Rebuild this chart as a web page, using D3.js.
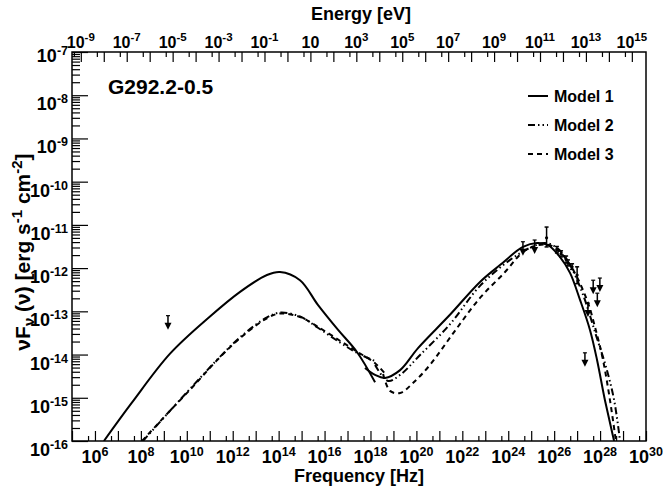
<!DOCTYPE html>
<html><head><meta charset="utf-8">
<script src="https://cdn.jsdelivr.net/npm/d3@7"></script>
<style>
body{margin:0;background:#fff;}
text{font-family:"Liberation Sans",Arial,Helvetica,sans-serif;font-weight:bold;fill:#000;}
</style></head>
<body><svg id="c" width="663" height="494"></svg>
<script>
// ---- data (log10 values) ----
const m1SyncLogNu = [6.39, 7.6, 9.27, 11.01, 12.32, 13.49, 14.06, 14.93, 15.71, 16.59, 17.41, 18.20];
const m1SyncLogF  = [-16.0, -15.12, -13.98, -13.12, -12.55, -12.16, -12.09, -12.28, -12.85, -13.43, -13.94, -14.64];
const m1ICLogNu = [17.76, 18.2, 18.63, 19.29, 20.07, 21.46, 22.77, 23.64, 24.64, 25.25, 25.73, 26.25, 26.69, 27.13, 27.56, 27.87, 28.21, 28.61];
const m1ICLogF  = [-14.31, -14.47, -14.54, -14.36, -13.85, -13.08, -12.32, -11.93, -11.51, -11.42, -11.47, -11.74, -12.11, -12.74, -13.43, -14.13, -15.05, -16.0];

const m2SyncLogNu = [8.09, 9.27, 10.27, 11.32, 12.32, 13.49, 14.06, 14.93, 15.71, 16.67, 17.41, 18.20];
const m2SyncLogF  = [-16.0, -15.3, -14.72, -14.12, -13.6, -13.14, -13.03, -13.12, -13.38, -13.72, -13.96, -14.15];
const m2ICLogNu = [18.2, 18.76, 19.29, 20.16, 21.46, 22.77, 24.08, 24.95, 25.6, 26.12, 26.69, 27.26, 27.82, 28.26, 28.61, 28.87];
const m2ICLogF  = [-14.24, -14.61, -14.47, -14.01, -13.3, -12.41, -11.81, -11.53, -11.42, -11.53, -11.93, -12.62, -13.55, -14.29, -15.05, -16.0];

const m3SyncLogNu = [8.05, 9.27, 10.27, 11.32, 12.32, 13.49, 14.06, 14.93, 15.71, 16.67, 17.41, 18.20, 18.6];
const m3SyncLogF  = [-16.0, -15.3, -14.74, -14.13, -13.62, -13.16, -13.05, -13.13, -13.36, -13.68, -13.93, -14.2, -14.42];
const m3ICLogNu = [18.55, 18.85, 19.29, 19.85, 20.59, 21.68, 22.77, 23.86, 24.64, 25.30, 25.82, 26.25, 26.78, 27.43, 27.87, 28.13, 28.43, 28.69];
const m3ICLogF  = [-14.45, -14.84, -14.89, -14.66, -14.24, -13.45, -12.69, -12.09, -11.63, -11.47, -11.47, -11.63, -12.0, -12.74, -13.55, -14.13, -15.05, -16.0];

const fermiLogNu = [25.67, 26.12, 26.30, 26.52, 26.60, 26.78, 27.0];
const fermiLogF  = [-11.30, -11.58, -11.67, -11.80, -11.88, -11.97, -12.16];
const fermiLogLo = [-11.51, -11.65, -11.74, -11.88, -11.95, -12.03, -12.36];
const fermiLogHi = [-11.05, -11.50, -11.60, -11.72, -11.81, -11.90, -11.97];

const ulLogNu = [9.18, 24.64, 25.15, 27.34, 27.47, 27.70, 27.88, 27.99];
const ulLogF  = [-13.10, -11.39, -11.35, -13.96, -12.81, -12.28, -12.58, -12.23];

const freqLabelExps = [6,8,10,12,14,16,18,20,22,24,26,28,30];
const energyLabelExps = [-9,-7,-5,-3,-1,1,3,5,7,9,11,13,15];
const fluxLabelExps = [-16,-15,-14,-13,-12,-11,-10,-9,-8,-7];
const legendLabels = ["Model 1","Model 2","Model 3"];
const title = "G292.2-0.5";

// ---- layout ----
const L=72, R=646, T=52, B=441;
const hPlanck = 4.135667e-15; // eV s
const svg = d3.select("#c");
const x = d3.scaleLog().domain([1e5,1e30]).range([L,R]);
const xE = d3.scaleLog().domain([1e5*hPlanck,1e30*hPlanck]).range([L,R]);
const y = d3.scaleLog().domain([1e-16,1e-7]).range([B,T]);
const p10 = v => Math.pow(10,v);

svg.append("defs").append("clipPath").attr("id","clip")
  .append("rect").attr("x",L).attr("y",T).attr("width",R-L).attr("height",B-T);

svg.append("rect").attr("x",L).attr("y",T).attr("width",R-L).attr("height",B-T)
  .attr("fill","none").attr("stroke","#000").attr("stroke-width",1.5);

function tickAxis(axisFn, scale, vals, size, transform){
  const g = svg.append("g").attr("transform",transform)
    .call(axisFn(scale).tickValues(vals).tickSizeInner(-size).tickSizeOuter(0).tickFormat(""));
  g.select(".domain").remove();
  g.selectAll("line").attr("stroke","#000").attr("stroke-width",1.2);
  return g;
}
const decN = d3.range(5,31).map(p10), halfN = d3.range(5,30).map(k=>5*p10(k));
tickAxis(d3.axisBottom, x, decN, 10, `translate(0,${B})`);
tickAxis(d3.axisBottom, x, halfN, 5, `translate(0,${B})`);
const eDec = d3.range(-9,16).map(p10);
const eHalf = d3.range(-10,15).map(k=>5*p10(k)).filter(v=>v>=1e5*hPlanck && v<=1e30*hPlanck);
tickAxis(d3.axisTop, xE, eDec, 10, `translate(0,${T})`);
tickAxis(d3.axisTop, xE, eHalf, 5, `translate(0,${T})`);
const yMaj = d3.range(-16,-6).map(p10);
const yMin = [];
d3.range(-16,-7).forEach(k=>{for(let m=2;m<=9;m++) yMin.push(m*p10(k));});
tickAxis(d3.axisLeft, y, yMaj, 16, `translate(${L},0)`);
tickAxis(d3.axisLeft, y, yMin, 8, `translate(${L},0)`);

function pow10Label(g, xp, yp, exp, anchor, fs, sfs){
  const t = g.append("text").attr("x",xp).attr("y",yp).attr("text-anchor",anchor).attr("font-size",fs);
  t.append("tspan").text("10");
  if(exp!==1) t.append("tspan").attr("dy",-7).attr("font-size",sfs).text(exp);
  return t;
}
const lg = svg.append("g");
freqLabelExps.forEach(e=>pow10Label(lg, x(p10(e)), 463, e, "middle", 18, 12.5));
energyLabelExps.forEach(e=>pow10Label(lg, xE(p10(e)), 48, e, "middle", 16, 11.5));
fluxLabelExps.forEach(e=>pow10Label(lg, 68, e===-7 ? y(p10(e))+10 : y(p10(e))+15, e, "end", 18, 12.5));

svg.append("text").attr("x",359).attr("y",482).attr("text-anchor","middle").attr("font-size",18).text("Frequency [Hz]");
svg.append("text").attr("x",361).attr("y",20).attr("text-anchor","middle").attr("font-size",18).text("Energy [eV]");
const yt = svg.append("text").attr("transform","translate(30,252) rotate(-90)").attr("text-anchor","middle").attr("font-size",21);
yt.append("tspan").text("\u03BDF");
yt.append("tspan").attr("font-size",15).attr("dy",4).text("\u03BD");
yt.append("tspan").attr("dy",-4).text(" (\u03BD) [erg s");
yt.append("tspan").attr("font-size",15).attr("dy",-8).text("-1");
yt.append("tspan").attr("dy",8).text(" cm");
yt.append("tspan").attr("font-size",15).attr("dy",-8).text("-2");
yt.append("tspan").attr("dy",8).text("]");

svg.append("text").attr("x",108).attr("y",94).attr("font-size",21).text(title);

const line = d3.line().x(d=>x(p10(d[0]))).y(d=>y(p10(d[1]))).curve(d3.curveCatmullRom.alpha(0.5));
const plot = svg.append("g").attr("clip-path","url(#clip)");
const dashes = [null, "7,3,1.5,3,1.5,3", "5,4"];
const series = [
  [m1SyncLogNu,m1SyncLogF,0],[m1ICLogNu,m1ICLogF,0],
  [m2SyncLogNu,m2SyncLogF,1],[m2ICLogNu,m2ICLogF,1],
  [m3SyncLogNu,m3SyncLogF,2],[m3ICLogNu,m3ICLogF,2]
];
series.forEach(([nu,f,k])=>{
  plot.append("path").datum(nu.map((v,i)=>[v,f[i]])).attr("d",line)
    .attr("fill","none").attr("stroke","#000").attr("stroke-width",2)
    .attr("stroke-dasharray",dashes[k]);
});

const pts = svg.append("g");
fermiLogNu.forEach((v,i)=>{
  const px = x(p10(v));
  pts.append("line").attr("x1",px).attr("x2",px).attr("y1",y(p10(fermiLogLo[i]))).attr("y2",y(p10(fermiLogHi[i]))).attr("stroke","#000").attr("stroke-width",1.5);
  [fermiLogLo[i],fermiLogHi[i]].forEach(e=>pts.append("line").attr("x1",px-2).attr("x2",px+2).attr("y1",y(p10(e))).attr("y2",y(p10(e))).attr("stroke","#000").attr("stroke-width",1.5));
  pts.append("circle").attr("cx",px).attr("cy",y(p10(fermiLogF[i]))).attr("r",1.6).attr("fill","#000");
});
ulLogNu.forEach((v,i)=>{
  const px = x(p10(v)), py = y(p10(ulLogF[i]));
  pts.append("line").attr("x1",px-2).attr("x2",px+2).attr("y1",py).attr("y2",py).attr("stroke","#000").attr("stroke-width",1.2);
  pts.append("line").attr("x1",px).attr("x2",px).attr("y1",py).attr("y2",py+10).attr("stroke","#000").attr("stroke-width",1.5);
  pts.append("path").attr("d",`M${px-3.5},${py+7} L${px+3.5},${py+7} L${px},${py+14} Z`).attr("fill","#000");
});

const legY = [96,125,154];
legendLabels.forEach((t,i)=>{
  svg.append("line").attr("x1",528).attr("x2",548).attr("y1",legY[i]).attr("y2",legY[i])
    .attr("stroke","#000").attr("stroke-width",2).attr("stroke-dasharray",dashes[i]);
  svg.append("text").attr("x",554).attr("y",legY[i]+5.5).attr("font-size",16).text(t);
});
</script></body></html>
